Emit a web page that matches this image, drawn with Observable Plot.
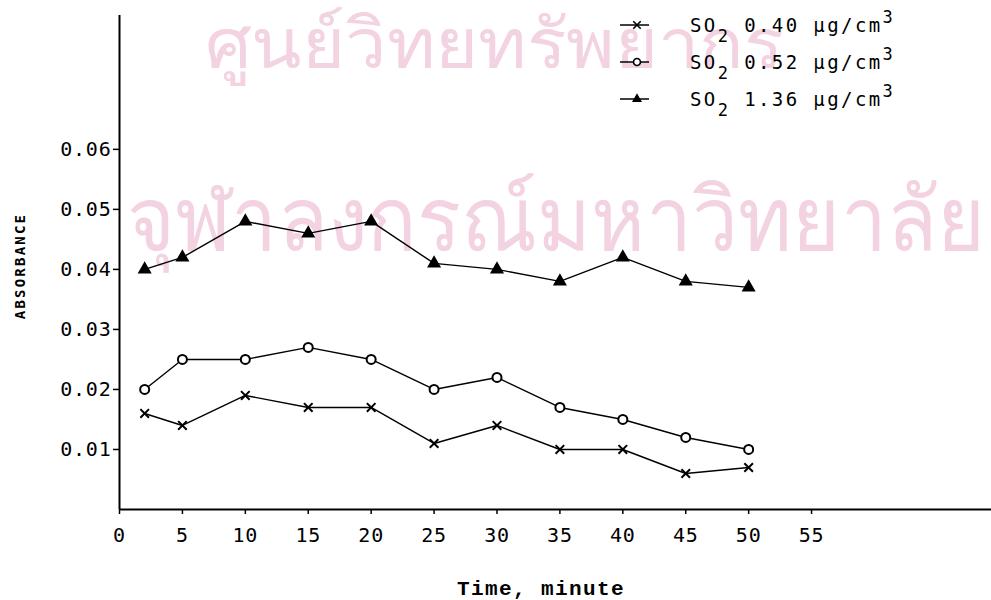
<!DOCTYPE html>
<html><head><meta charset="utf-8">
<script src="https://cdn.jsdelivr.net/npm/d3@7"></script>
<script src="https://cdn.jsdelivr.net/npm/@observablehq/plot@0.6"></script>
<style>
html,body{margin:0;padding:0;background:#fff;}
#chart{position:relative;width:991px;height:600px;overflow:hidden;background:#fff;}
</style></head>
<body><div id="chart"></div>
<script>
const times = [2, 5, 10, 15, 20, 25, 30, 35, 40, 45, 50];
const so2_040 = [0.016, 0.014, 0.019, 0.017, 0.017, 0.011, 0.014, 0.010, 0.010, 0.006, 0.007];
const so2_052 = [0.020, 0.025, 0.025, 0.027, 0.025, 0.020, 0.022, 0.017, 0.015, 0.012, 0.010];
const so2_136 = [0.040, 0.042, 0.048, 0.046, 0.048, 0.041, 0.040, 0.038, 0.042, 0.038, 0.037];
const seriesNames = ["0.40", "0.52", "1.36"];
const seriesSymbols = ["times", "circle", "triangle"];
const xTicks = [0, 5, 10, 15, 20, 25, 30, 35, 40, 45, 50, 55];
const yTicks = [0.01, 0.02, 0.03, 0.04, 0.05, 0.06];
const xTitle = "Time, minute";
const yTitle = "ABSORBANCE";
const watermark = ["ศูนย์วิทยทรัพยากร", "จุฬาลงกรณ์มหาวิทยาลัย"];

const seriesValues = [so2_040, so2_052, so2_136];
const rows = [];
seriesValues.forEach((vals, i) => vals.forEach((v, j) => rows.push({series: seriesNames[i], time: times[j], value: v})));
const bySeries = s => rows.filter(d => d.series === s);

const mono = "'DejaVu Sans Mono', monospace";
const chart = Plot.plot({
  width: 991, height: 600,
  marginLeft: 119, marginRight: 0, marginTop: 15, marginBottom: 91,
  style: {fontFamily: mono, fontSize: "20px", color: "#000", background: "#fff"},
  x: {domain: [0, 69.3]},
  y: {domain: [0, 0.0823]},
  marks: [
    Plot.axisX({ticks: xTicks, tickSize: 5, tickPadding: 13, tickFormat: d => String(d), label: null, strokeWidth: 1.5}),
    Plot.axisY({ticks: yTicks, tickSize: 6, tickPadding: 2, tickFormat: d3.format(".2f"), label: null, strokeWidth: 1.5}),
    Plot.ruleY([0], {stroke: "#000", strokeWidth: 2.2}),
    Plot.ruleX([0], {stroke: "#000", strokeWidth: 2}),
    Plot.line(rows, {x: "time", y: "value", z: "series", stroke: "#000", strokeWidth: 1.4}),
    Plot.dot(bySeries(seriesNames[0]), {x: "time", y: "value", symbol: seriesSymbols[0], r: 4, stroke: "#000", strokeWidth: 2}),
    Plot.dot(bySeries(seriesNames[1]), {x: "time", y: "value", symbol: seriesSymbols[1], r: 4.5, stroke: "#000", fill: "#fff", strokeWidth: 2}),
    Plot.dot(bySeries(seriesNames[2]), {x: "time", y: "value", symbol: seriesSymbols[2], r: 4.2, stroke: "#000", fill: "#000", strokeWidth: 1.6})
  ]
});
document.getElementById("chart").appendChild(chart);

const svg = d3.select(chart);
svg.selectAll("text").attr("letter-spacing", "0.8px");

// faint scanned-page watermark, behind everything
const wm = svg.insert("g", ":first-child").attr("fill", "#f3d2e2").attr("text-anchor", "start")
  .attr("font-family", "'Noto Sans', 'DejaVu Sans', sans-serif");
wm.append("text").attr("transform", "translate(205,68) scale(1.12,1.05)").attr("font-size", 66).text(watermark[0]);
wm.append("text").attr("transform", "translate(127,250) scale(1,1.07)").attr("font-size", 82).text(watermark[1]);

// axis titles
svg.append("text").attr("x", 541).attr("y", 595).attr("text-anchor", "middle")
  .attr("font-family", "'Liberation Mono', monospace").attr("font-weight", "bold")
  .attr("font-size", 21).attr("letter-spacing", "1.4px").attr("fill", "#000").text(xTitle);
svg.append("text").attr("transform", "translate(25,266) rotate(-90)").attr("text-anchor", "middle")
  .attr("font-family", mono).attr("font-weight", "bold")
  .attr("font-size", 14).attr("letter-spacing", "2.2px").attr("fill", "#000").text(yTitle);

// legend
const symMap = {times: d3.symbolTimes, circle: d3.symbolCircle, triangle: d3.symbolTriangle2};
const legendRowsY = [25, 62, 99];
seriesNames.forEach((name, i) => {
  const g = svg.append("g").attr("transform", `translate(0,${legendRowsY[i]})`);
  g.append("line").attr("x1", 620).attr("x2", 649).attr("y1", 0).attr("y2", 0).attr("stroke", "#000").attr("stroke-width", 1.5);
  const sym = seriesSymbols[i];
  g.append("path").attr("transform", "translate(637,0)")
    .attr("d", d3.symbol().type(symMap[sym]).size(Math.PI * 12)())
    .attr("stroke", "#000").attr("stroke-width", 1.6)
    .attr("fill", sym === "times" ? "none" : sym === "triangle" ? "#000" : "#fff");
  const t = g.append("text").attr("x", 690).attr("y", 7).attr("text-anchor", "start")
    .attr("font-family", mono).attr("font-size", 19).attr("letter-spacing", "2.4px").attr("fill", "#000");
  t.append("tspan").text("SO");
  t.append("tspan").attr("dy", 10).attr("font-size", 17).text("2");
  t.append("tspan").attr("dy", -10).text(" " + name + " µg/cm");
  t.append("tspan").attr("dy", -9).attr("font-size", 17).text("3");
});
</script>
</body></html>
